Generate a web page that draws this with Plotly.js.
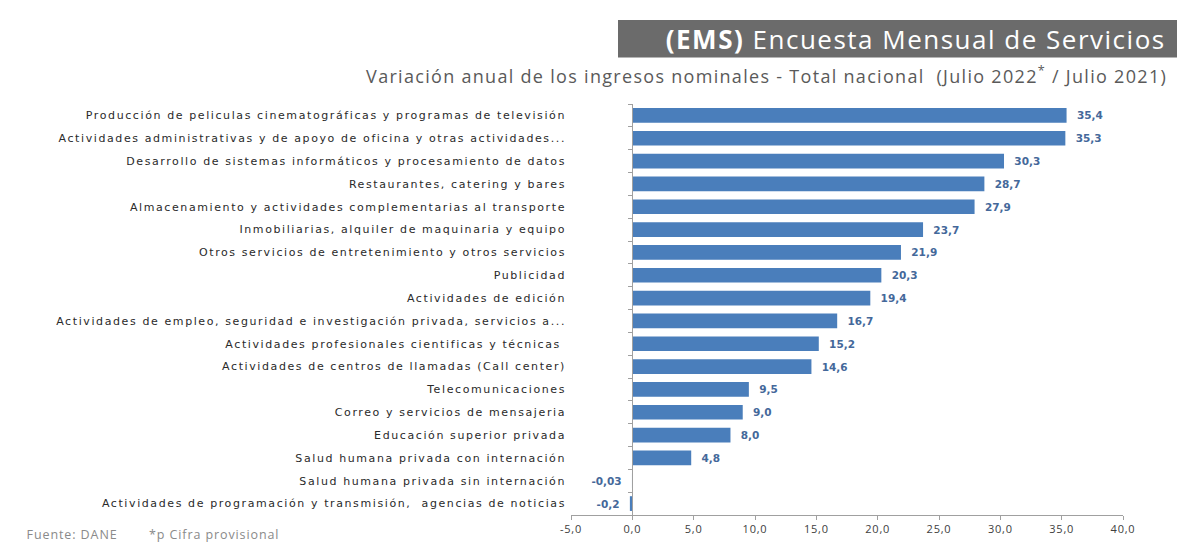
<!DOCTYPE html>
<html>
<head>
<meta charset="utf-8">
<script src="https://cdn.plot.ly/plotly-3.0.1.min.js"></script>
<style>
html,body{margin:0;padding:0;background:#fff;}
#chart{width:1177px;height:543px;}
g.ytick text{letter-spacing:1.6px;}
g.xtick text{letter-spacing:0.8px;}
g.annotation[data-index="0"] text{letter-spacing:1.5px;}
g.annotation[data-index="1"] text{letter-spacing:1.3px;}
g.annotation[data-index="2"] text, g.annotation[data-index="3"] text{letter-spacing:0.9px;}
</style>
</head>
<body>
<div id="chart"></div>
<script>
const categories = [
  "Producción de peliculas cinematográficas y programas de televisión",
  "Actividades administrativas y de apoyo de oficina y otras actividades...",
  "Desarrollo de sistemas informáticos y procesamiento de datos",
  "Restaurantes, catering y bares",
  "Almacenamiento y actividades complementarias al transporte",
  "Inmobiliarias, alquiler de maquinaria y equipo",
  "Otros servicios de entretenimiento y otros servicios",
  "Publicidad",
  "Actividades de edición",
  "Actividades de empleo, seguridad e investigación privada, servicios a...",
  "Actividades profesionales cientificas y técnicas ",
  "Actividades de centros de llamadas (Call center)",
  "Telecomunicaciones",
  "Correo y servicios de mensajeria",
  "Educación superior privada",
  "Salud humana privada con internación",
  "Salud humana privada sin internación",
  "Actividades de programación y transmisión,  agencias de noticias"
];
const values = [35.4, 35.3, 30.3, 28.7, 27.9, 23.7, 21.9, 20.3, 19.4, 16.7, 15.2, 14.6, 9.5, 9.0, 8.0, 4.8, -0.03, -0.2];
const xTicks = [-5, 0, 5, 10, 15, 20, 25, 30, 35, 40];

const fmt = v => (Math.abs(v) < 0.1 && v !== 0 ? v.toFixed(2) : v.toFixed(1)).replace('.', ',');
const NB = '\u00a0\u00a0';
const labels = values.map(v => v >= 0 ? NB + fmt(v) : fmt(v) + NB);

const W = 1177, H = 543;
const L = 571, R = 1123, T = 103.6, B = 515;
const px = x => (x - L) / (R - L);
const py = y => (B - y) / (B - T);

const traces = [
  {
    type: 'bar', orientation: 'h',
    x: values, y: categories,
    marker: {color: '#4a7ebb', line: {width: 0}},
    text: labels, textposition: 'outside', cliponaxis: false,
    textfont: {family: 'DejaVu Sans', size: 10.5, color: '#44689a', weight: 'bold'},
    hoverinfo: 'skip'
  },
  {
    type: 'scatter', mode: 'none',
    x: values.map(() => 0), y: categories,
    yaxis: 'y2', hoverinfo: 'skip', showlegend: false
  }
];

const layout = {
  width: W, height: H,
  margin: {l: L, r: W - R, t: T, b: H - B, pad: 0},
  paper_bgcolor: '#fff', plot_bgcolor: '#fff',
  showlegend: false,
  separators: ',.',
  bargap: 0.355,
  font: {family: 'Liberation Sans, Arial', color: '#333'},
  xaxis: {
    range: [-5, 40], tickvals: xTicks, ticktext: xTicks.map(v => v.toFixed(1).replace('.', ',')),
    showgrid: false, zeroline: false,
    showline: true, linecolor: '#a0a0a0', linewidth: 1,
    ticks: 'outside', ticklen: 4, tickcolor: '#a0a0a0',
    tickfont: {family: 'Open Sans', size: 11, color: '#404040'}
  },
  yaxis: {
    type: 'category', categoryorder: 'array', categoryarray: categories,
    range: [categories.length - 0.5, -0.5],
    showgrid: false, zeroline: false, showline: false, ticks: '',
    ticklabelstandoff: 4,
    tickfont: {family: 'DejaVu Sans', size: 11, color: '#2a2a2a'}
  },
  yaxis2: {
    type: 'category', categoryorder: 'array', categoryarray: categories,
    range: [categories.length - 0.5, -0.5],
    overlaying: 'y', anchor: 'free', side: 'left',
    position: (0 - (-5)) / 45,
    showgrid: false, zeroline: false,
    showline: true, linecolor: '#a0a0a0', linewidth: 1,
    ticks: 'outside', ticklen: 4, tickcolor: '#a0a0a0', tickson: 'boundaries',
    showticklabels: false
  },
  shapes: [
    {type: 'rect', xref: 'paper', yref: 'paper', x0: px(618), x1: px(1177), y0: py(57), y1: py(19.5),
     fillcolor: '#6b6b6b', line: {width: 0}, layer: 'below'}
  ],
  annotations: [
    {xref: 'paper', yref: 'paper', x: px(915), y: py(39), xanchor: 'center', yanchor: 'middle', showarrow: false,
     text: '<b>(EMS)</b> Encuesta Mensual de Servicios',
     font: {family: 'Open Sans', size: 26, color: '#ffffff'}},
    {xref: 'paper', yref: 'paper', x: px(766.5), y: py(75), xanchor: 'center', yanchor: 'middle', showarrow: false,
     text: 'Variación anual de los ingresos nominales - Total nacional  (Julio 2022<sup>*</sup> / Julio 2021)',
     font: {family: 'Open Sans', size: 18, color: '#5a5a5a'}},
    {xref: 'paper', yref: 'paper', x: px(71.5), y: py(535), xanchor: 'center', yanchor: 'middle', showarrow: false,
     text: 'Fuente: DANE', font: {family: 'Open Sans', size: 12.5, color: '#8a8a8a'}},
    {xref: 'paper', yref: 'paper', x: px(214), y: py(535), xanchor: 'center', yanchor: 'middle', showarrow: false,
     text: '*p Cifra provisional', font: {family: 'Open Sans', size: 12.5, color: '#8a8a8a'}}
  ]
};

Plotly.newPlot('chart', traces, layout, {displayModeBar: false, staticPlot: true});
</script>
</body>
</html>
